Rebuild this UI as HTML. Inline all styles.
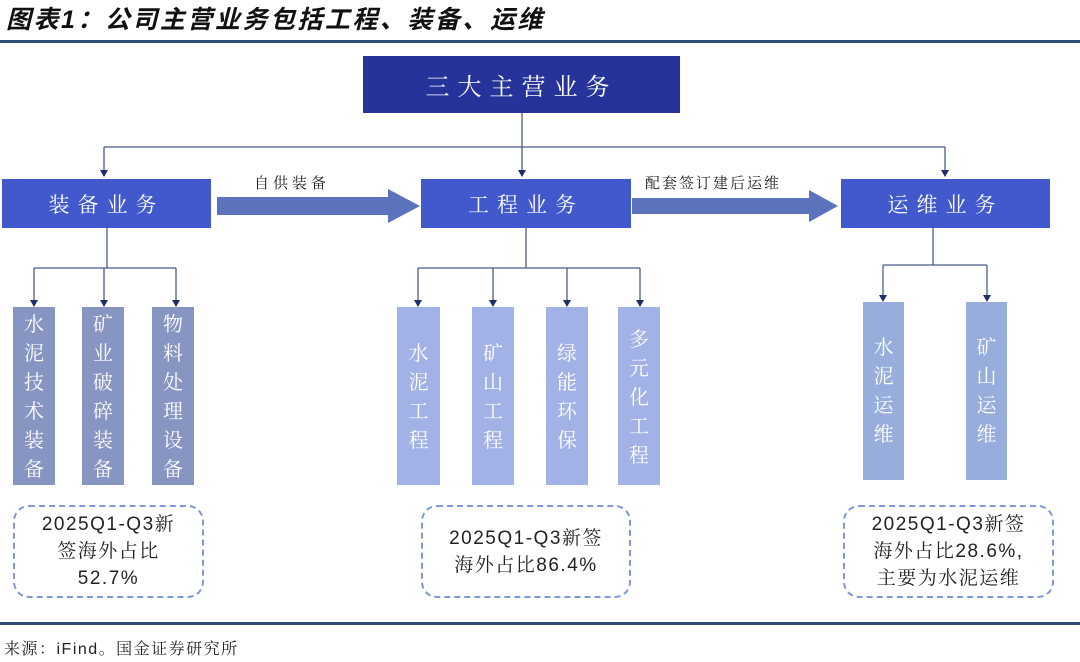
<!DOCTYPE html>
<html><head><meta charset="utf-8"><style>
body{margin:0;width:1080px;height:662px;background:#fff;position:relative;overflow:hidden;font-family:"Liberation Sans","Noto Serif CJK SC","Noto Sans CJK SC",sans-serif;}
.a{position:absolute;}
.bx{position:absolute;color:#fff;display:flex;align-items:center;justify-content:center;letter-spacing:8px;}
.v{position:absolute;color:#fff;text-align:center;font-size:20px;line-height:29px;box-sizing:border-box;}
.d{position:absolute;border:2px dashed #7f98d6;border-radius:16px;box-sizing:border-box;display:flex;align-items:center;justify-content:center;text-align:center;font-size:19px;line-height:27px;color:#222;letter-spacing:1.5px;}
</style></head><body>
<div class="a" style="left:6px;top:0px;font-size:25px;font-weight:bold;font-style:italic;color:#111;letter-spacing:2.5px;font-family:'Liberation Sans','Noto Sans CJK SC',sans-serif;">图表1：公司主营业务包括工程、装备、运维</div>
<div class="a" style="left:0;top:40px;width:1080px;height:3px;background:#2f4f76"></div>
<div class="a" style="left:0;top:622px;width:1080px;height:3px;background:#2f4f76"></div>
<div class="a" style="left:4px;top:636px;font-size:16px;color:#222;letter-spacing:1.5px;">来源：iFind。国金证券研究所</div>

<svg class="a" style="left:0;top:0" width="1080" height="662">
<g stroke="#4a5c8c" stroke-width="1.3" fill="none">
<path d="M522,113 V176"/><path d="M104,147 H945"/><path d="M104,147 V176"/><path d="M945,147 V176"/>
<path d="M107,228 V268"/><path d="M34,268 H176"/><path d="M34,268 V304"/><path d="M104,268 V304"/><path d="M176,268 V304"/>
<path d="M526,228 V268"/><path d="M418,268 H640"/><path d="M418,268 V304"/><path d="M493,268 V304"/><path d="M567,268 V304"/><path d="M640,268 V304"/>
<path d="M933,228 V265"/><path d="M883,265 H987"/><path d="M883,265 V298"/><path d="M987,265 V298"/>
</g>
<g fill="#1f2d6b">
<path d="M518,170 h8 l-4,7z"/><path d="M100,170 h8 l-4,7z"/><path d="M941,170 h8 l-4,7z"/>
<path d="M30,300 h8 l-4,7z"/><path d="M100,300 h8 l-4,7z"/><path d="M172,300 h8 l-4,7z"/>
<path d="M414,300 h8 l-4,7z"/><path d="M489,300 h8 l-4,7z"/><path d="M563,300 h8 l-4,7z"/><path d="M636,300 h8 l-4,7z"/>
<path d="M879,295 h8 l-4,7z"/><path d="M983,295 h8 l-4,7z"/>
</g>
<path d="M217,197 H388 V189 L420,206 L388,223 V215 H217Z" fill="#5a73bc"/>
<path d="M632,198 H809 V190 L838,206 L809,222 V214 H632Z" fill="#5a73bc"/>
</svg>
<div class="a" style="left:254px;top:172px;font-size:15px;letter-spacing:4px;color:#222">自供装备</div>
<div class="a" style="left:645px;top:172px;font-size:15px;letter-spacing:2px;color:#222">配套签订建后运维</div>

<div class="bx" style="left:363px;top:56px;width:317px;height:57px;background:#25339a;font-size:24px;">三大主营业务</div>
<div class="bx" style="left:2px;top:179px;width:209px;height:49px;background:#4159cc;font-size:21px;">装备业务</div>
<div class="bx" style="left:421px;top:179px;width:210px;height:49px;background:#4159cc;font-size:21px;">工程业务</div>
<div class="bx" style="left:841px;top:179px;width:209px;height:49px;background:#4159cc;font-size:21px;">运维业务</div>

<div class="v" style="left:13px;top:307px;width:42px;height:178px;background:#8795c3;padding-top:4px">水<br>泥<br>技<br>术<br>装<br>备</div>
<div class="v" style="left:82px;top:307px;width:42px;height:178px;background:#8795c3;padding-top:4px">矿<br>业<br>破<br>碎<br>装<br>备</div>
<div class="v" style="left:152px;top:307px;width:42px;height:178px;background:#8795c3;padding-top:4px">物<br>料<br>处<br>理<br>设<br>备</div>

<div class="v" style="left:397px;top:307px;width:43px;height:178px;background:#a2b2e6;padding-top:33px">水<br>泥<br>工<br>程</div>
<div class="v" style="left:472px;top:307px;width:42px;height:178px;background:#a2b2e6;padding-top:33px">矿<br>山<br>工<br>程</div>
<div class="v" style="left:546px;top:307px;width:42px;height:178px;background:#a2b2e6;padding-top:33px">绿<br>能<br>环<br>保</div>
<div class="v" style="left:618px;top:307px;width:42px;height:178px;background:#a2b2e6;padding-top:19px">多<br>元<br>化<br>工<br>程</div>

<div class="v" style="left:863px;top:302px;width:41px;height:178px;background:#97aedc;padding-top:32px">水<br>泥<br>运<br>维</div>
<div class="v" style="left:966px;top:302px;width:41px;height:178px;background:#97aedc;padding-top:32px">矿<br>山<br>运<br>维</div>

<div class="d" style="left:13px;top:505px;width:191px;height:93px;">2025Q1-Q3新<br>签海外占比<br>52.7%</div>
<div class="d" style="left:421px;top:505px;width:210px;height:93px;">2025Q1-Q3新签<br>海外占比86.4%</div>
<div class="d" style="left:843px;top:505px;width:211px;height:93px;">2025Q1-Q3新签<br>海外占比28.6%,<br>主要为水泥运维</div>
</body></html>
